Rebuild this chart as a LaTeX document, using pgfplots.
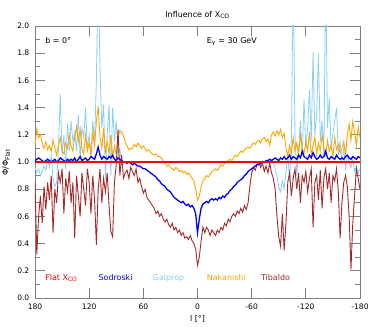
\documentclass[border=0pt]{standalone}
\usepackage{pgfplots}
\pgfplotsset{compat=1.18}
\usepackage{pgfplotstable}
\usepackage{fontspec}
\setmainfont{DejaVu Sans}
\definecolor{cFlat}{RGB}{255,0,0}
\definecolor{cSod}{RGB}{0,0,255}
\definecolor{cGal}{RGB}{135,206,250}
\definecolor{cNak}{RGB}{255,165,0}
\definecolor{cTib}{RGB}{165,42,42}
\pgfplotstableread{
l sod nak gal tib
180 1.01 1.12 0.96 0.85
178 1.02 1.24 0.92 0.32
176 1.03 1.18 0.95 0.60
174 1.02 1.20 0.90 0.75
172 1.01 1.14 0.93 0.55
170 1.00 1.10 0.97 0.82
168 1.01 1.15 0.94 0.65
166 1.02 1.09 1.02 0.85
164 1.01 1.12 0.96 0.72
162 1.00 1.08 1.05 0.90
160 1.01 1.16 0.88 0.48
158 1.02 1.10 0.82 0.80
156 1.00 1.05 0.85 0.70
154 1.01 1.12 1.10 0.92
152 1.03 1.18 1.50 0.85
150 1.02 1.08 1.05 0.95
148 1.01 1.06 1.20 0.62
146 1.00 1.14 0.95 0.88
144 1.02 1.10 1.28 0.78
142 1.01 1.20 1.08 0.93
140 1.02 1.12 1.30 0.70
138 1.01 1.08 1.15 0.85
136 1.03 1.18 1.22 0.44
134 1.00 1.26 1.08 0.90
132 1.02 1.15 1.35 0.75
130 1.04 1.24 1.02 0.60
128 1.01 1.10 1.25 0.92
126 1.02 1.06 1.18 0.80
124 1.03 1.20 1.40 0.68
122 1.01 1.08 1.10 0.95
120 1.02 1.14 1.20 0.85
118 1.04 1.05 1.05 0.62
116 1.03 1.22 1.30 0.90
114 1.02 1.12 1.15 0.72
112 1.06 1.30 1.60 0.39
110 1.11 1.41 2.40 0.80
108 1.05 1.18 1.70 0.95
106 1.02 1.10 1.25 0.70
104 1.04 1.25 1.42 0.88
102 1.03 1.08 0.87 0.78
100 1.02 1.15 1.20 0.92
98 1.04 1.06 1.42 0.68
96 1.03 1.20 0.90 0.49
94 1.05 1.04 1.40 0.45
92 1.02 1.12 1.15 0.85
90 1.01 1.06 1.30 0.98
88 1.03 1.18 1.05 1.24
86 1.02 1.23 1.10 0.90
84 1.01 1.22 0.98 1.05
82 1.00 1.19 1.00 0.88
80 1.00 1.15 1.00 0.92
78 0.99 1.12 1.00 0.94
76 1.00 1.09 1.00 0.88
74 0.99 1.10 1.00 0.96
72 0.98 1.10 1.00 0.93
70 0.99 1.13 1.00 0.90
68 0.98 1.11 1.00 0.95
66 0.97 1.14 1.00 0.85
64 0.97 1.12 1.00 0.88
62 0.96 1.10 1.00 0.82
60 0.95 1.12 1.00 0.77
58 0.95 1.10 1.00 0.80
56 0.94 1.08 1.00 0.74
54 0.93 1.09 1.00 0.72
52 0.92 1.07 1.00 0.70
50 0.91 1.06 1.00 0.68
48 0.90 1.05 1.00 0.66
46 0.89 1.06 1.00 0.62
44 0.87 1.04 1.00 0.64
42 0.86 1.04 1.00 0.60
40 0.84 1.03 1.00 0.62
38 0.83 1.01 1.00 0.58
36 0.82 0.99 1.00 0.56
34 0.80 0.97 1.00 0.58
32 0.79 0.98 1.00 0.54
30 0.78 0.96 1.00 0.52
28 0.76 0.95 1.00 0.55
26 0.74 0.94 1.00 0.50
24 0.73 0.96 1.00 0.52
22 0.72 0.95 1.00 0.48
20 0.71 0.93 1.00 0.50
18 0.70 0.94 1.00 0.46
16 0.71 0.92 1.00 0.48
14 0.69 0.93 1.00 0.44
12 0.68 0.91 1.00 0.45
10 0.69 0.92 1.00 0.43
8 0.67 0.90 1.00 0.46
6 0.68 0.88 1.00 0.42
4 0.66 0.86 1.00 0.40
2 0.62 0.80 1.00 0.36
0 0.48 0.72 1.00 0.24
-2 0.58 0.75 1.00 0.30
-4 0.66 0.82 1.00 0.42
-6 0.69 0.86 1.00 0.52
-8 0.70 0.88 1.00 0.48
-10 0.71 0.90 1.00 0.52
-12 0.70 0.89 1.00 0.50
-14 0.72 0.91 1.00 0.46
-16 0.73 0.93 1.00 0.50
-18 0.72 0.94 1.00 0.48
-20 0.73 0.95 1.00 0.46
-22 0.72 0.94 1.00 0.50
-24 0.74 0.96 1.00 0.48
-26 0.73 0.98 1.00 0.52
-28 0.75 0.97 1.00 0.50
-30 0.74 0.99 1.00 0.55
-32 0.76 1.00 1.00 0.53
-34 0.77 1.01 1.00 0.58
-36 0.79 1.02 1.00 0.56
-38 0.80 1.01 1.00 0.60
-40 0.82 1.03 1.00 0.62
-42 0.83 1.05 1.00 0.60
-44 0.85 1.04 1.00 0.64
-46 0.86 1.06 1.00 0.62
-48 0.87 1.08 1.00 0.66
-50 0.88 1.07 1.00 0.63
-52 0.90 1.09 1.00 0.68
-54 0.91 1.10 1.00 0.65
-56 0.93 1.11 1.00 0.70
-58 0.94 1.10 1.00 0.82
-60 0.95 1.12 1.00 0.92
-62 0.96 1.14 1.00 0.96
-64 0.97 1.13 1.00 0.94
-66 0.98 1.15 1.00 0.98
-68 0.98 1.16 1.00 1.00
-70 0.99 1.14 1.00 0.96
-72 1.00 1.17 1.00 0.99
-74 1.00 1.18 1.00 0.93
-76 1.01 1.15 1.00 0.97
-78 1.01 1.17 1.00 0.92
-80 1.02 1.12 1.00 0.99
-82 1.01 1.20 1.00 0.92
-84 1.02 1.22 1.00 0.88
-86 1.03 1.19 0.95 0.80
-88 1.02 1.23 0.90 0.60
-90 1.01 1.20 0.82 0.45
-92 1.03 1.24 0.78 0.38
-94 1.02 1.18 0.86 0.62
-96 1.04 1.21 0.80 0.35
-98 1.02 1.10 0.92 0.55
-100 1.03 1.04 1.08 0.85
-102 1.05 1.12 0.85 0.92
-104 1.02 1.06 1.15 0.75
-106 1.04 1.18 2.40 0.88
-108 1.03 1.08 1.20 0.95
-110 1.02 1.14 0.90 0.80
-112 1.05 1.05 1.10 0.92
-114 1.03 1.20 1.30 0.70
-116 1.08 1.10 1.05 0.90
-118 1.04 1.06 1.46 0.85
-120 1.03 1.15 1.10 0.93
-122 1.02 1.08 1.25 0.78
-124 1.05 1.22 1.53 0.88
-126 1.03 1.05 1.15 0.95
-128 1.07 1.12 1.81 0.52
-130 1.04 1.18 1.20 0.85
-132 1.02 1.06 1.35 0.90
-134 1.03 1.14 1.80 0.72
-136 1.05 1.08 1.15 0.94
-138 1.03 1.20 1.30 0.66
-140 1.04 1.10 1.05 0.88
-142 1.08 1.05 2.40 0.95
-144 1.03 1.16 1.25 0.80
-146 1.02 1.08 1.47 0.92
-148 1.04 1.12 1.10 0.70
-150 1.03 1.04 1.20 0.90
-152 1.02 1.18 1.30 0.86
-154 1.05 1.09 1.40 0.95
-156 1.03 1.13 1.05 0.78
-158 1.02 1.06 1.15 0.44
-160 1.03 1.10 1.00 0.70
-162 1.02 1.15 1.10 0.85
-164 1.04 1.05 0.95 0.90
-166 1.05 1.20 1.05 0.82
-168 1.03 1.28 1.00 0.60
-170 1.02 1.16 0.96 0.21
-172 1.04 1.30 1.02 0.55
-174 1.03 1.22 0.93 0.75
-176 1.02 1.12 0.97 0.95
-178 1.04 1.26 0.92 0.88
-180 1.03 1.18 0.95 0.80
}\data

\begin{document}
\begin{tikzpicture}
\useasboundingbox (-35bp,-29bp) rectangle (339bp,298bp);
\begin{axis}[
  at={(0,0)}, anchor=south west,
  scale only axis, width=325bp, height=272bp,
  xmin=-180, xmax=180, x dir=reverse,
  ymin=0, ymax=2,
  xtick={180,120,60,0,-60,-120,-180},
  xticklabels={180,120,60,0,-60,-120,-180},
  ytick={0,0.2,0.4,0.6,0.8,1.0,1.2,1.4,1.6,1.8,2.0},
  minor ytick={0.1,0.3,0.5,0.7,0.9,1.1,1.3,1.5,1.7,1.9},
  yticklabel style={/pgf/number format/fixed,/pgf/number format/fixed zerofill,/pgf/number format/precision=1},
  /pgf/number format/assume math mode=true,
  tick align=inside,
  major tick length=10bp, minor tick length=5bp,
  axis line style={draw=gray, line width=0.8bp},
  every tick/.style={draw=gray, line width=0.8bp},
  ticklabel style={font=\fontsize{7.6}{8}\selectfont, inner sep=0pt},
  xticklabel style={anchor=base, yshift=-11.3bp},
  yticklabel style={anchor=east, xshift=-5.5bp},
  clip mode=individual,
]
\addplot[color=cGal, line width=0.8bp, no marks] table[x=l,y=gal]{\data};
\addplot[color=cNak, line width=0.9bp, no marks] table[x=l,y=nak]{\data};
\addplot[color=cTib, line width=0.9bp, no marks] table[x=l,y=tib]{\data};
\addplot[color=cSod, line width=1.3bp, no marks] table[x=l,y=sod]{\data};
\addplot[color=cFlat, line width=1.1bp, no marks] coordinates {(180,1) (-180,1)};

\node[anchor=base, font=\fontsize{8}{9}\selectfont] at (rel axis cs:0.5,1.032) {Influence of X\textsubscript{CO}};
\node[anchor=base, font=\fontsize{8}{9}\selectfont] at (rel axis cs:0.5,-0.0846) {l [°]};
\node[rotate=90, anchor=center, font=\fontsize{8}{9}\selectfont] at (rel axis cs:-0.089,0.5) {Φ/Φ\textsubscript{Flat}};
\node[anchor=base west, inner sep=0pt, font=\fontsize{8}{9}\selectfont] at (rel axis cs:0.031,0.936) {b = 0°};
\node[anchor=base west, inner sep=0pt, font=\fontsize{8}{9}\selectfont] at (rel axis cs:0.528,0.936) {E\textsubscript{γ} = 30 GeV};
\node[anchor=base west, inner sep=0pt, text=cFlat, font=\fontsize{8}{9}\selectfont] at (rel axis cs:0.031,0.066) {Flat X\textsubscript{CO}};
\node[anchor=base west, inner sep=0pt, text=cSod, font=\fontsize{8}{9}\selectfont] at (rel axis cs:0.195,0.066) {Sodroski};
\node[anchor=base west, inner sep=0pt, text=cGal, font=\fontsize{8}{9}\selectfont] at (rel axis cs:0.362,0.066) {Galprop};
\node[anchor=base west, inner sep=0pt, text=cNak, font=\fontsize{8}{9}\selectfont] at (rel axis cs:0.528,0.066) {Nakanishi};
\node[anchor=base west, inner sep=0pt, text=cTib, font=\fontsize{8}{9}\selectfont] at (rel axis cs:0.695,0.066) {Tibaldo};
\end{axis}
\end{tikzpicture}
\end{document}
